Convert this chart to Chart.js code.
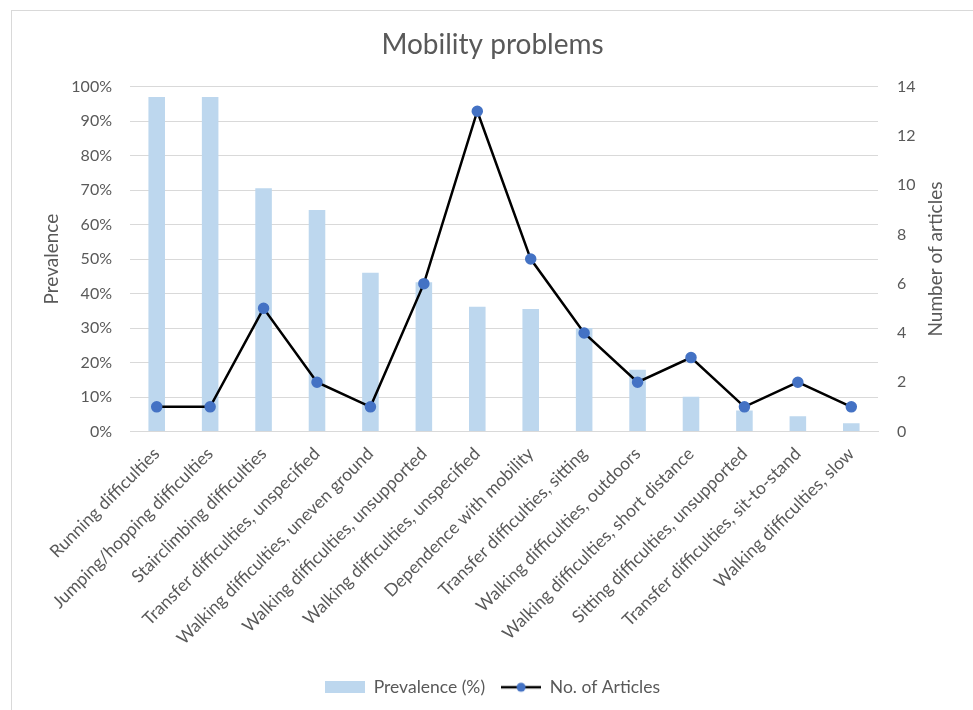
<!DOCTYPE html>
<html>
<head>
<meta charset="utf-8">
<script src="https://cdn.jsdelivr.net/npm/chart.js@4.4.1/dist/chart.umd.min.js"></script>
<style>
  html, body { margin: 0; padding: 0; background: #fff; overflow: hidden; }
  #frame { position: absolute; left: 11px; top: 10px; right: -5px; bottom: -5px; border-left: 1px solid #d9d9d9; border-top: 1px solid #d9d9d9; }
  #myChart { position: absolute; left: 0; top: 0; }
</style>
</head>
<body>
<div id="frame"></div>
<canvas id="myChart" width="973" height="710"></canvas>
<script>
const categories = [
  "Running difficulties",
  "Jumping/hopping difficulties",
  "Stairclimbing difficulties",
  "Transfer difficulties, unspecified",
  "Walking difficulties, uneven ground",
  "Walking difficulties, unsupported",
  "Walking difficulties, unspecified",
  "Dependence with mobility",
  "Transfer difficulties, sitting",
  "Walking difficulties, outdoors",
  "Walking difficulties, short distance",
  "Sitting difficulties, unsupported",
  "Transfer difficulties, sit-to-stand",
  "Walking difficulties, slow"
];
const prevalence = [97, 97, 70.5, 64.2, 46, 43.3, 36.2, 35.5, 30, 17.9, 10.1, 6.1, 4.4, 2.4];
const articles = [1, 1, 5, 2, 1, 6, 13, 7, 4, 2, 3, 1, 2, 1];
const prevalenceTicks = [0, 10, 20, 30, 40, 50, 60, 70, 80, 90, 100];
const articleTicks = [0, 2, 4, 6, 8, 10, 12, 14];

const textColor = '#595959';
const fontFamily = 'Lato, "Open Sans", sans-serif';

// legend swatches
function barSwatch() {
  const c = document.createElement('canvas');
  c.width = 40; c.height = 12;
  const ctx = c.getContext('2d');
  ctx.fillStyle = '#bdd7ee';
  ctx.fillRect(0, 0, 40, 12);
  return c;
}
function lineSwatch() {
  const c = document.createElement('canvas');
  c.width = 40; c.height = 12;
  const ctx = c.getContext('2d');
  ctx.strokeStyle = '#000';
  ctx.lineWidth = 2.5;
  ctx.beginPath(); ctx.moveTo(0, 6); ctx.lineTo(40, 6); ctx.stroke();
  ctx.fillStyle = '#4472c4';
  ctx.beginPath(); ctx.arc(20, 6, 4.5, 0, Math.PI * 2); ctx.fill();
  return c;
}

// both axis titles read bottom to top
const axisTitles = {
  id: 'axisTitles',
  afterDraw(chart) {
    const ctx = chart.ctx;
    const area = chart.chartArea;
    const midY = (area.top + area.bottom) / 2;
    [[52, 'Prevalence'], [936, 'Number of articles']].forEach(([x, text]) => {
      ctx.save();
      ctx.translate(x, midY);
      ctx.rotate(-Math.PI / 2);
      ctx.font = '19px ' + fontFamily;
      ctx.fillStyle = textColor;
      ctx.textAlign = 'center';
      ctx.textBaseline = 'middle';
      ctx.fillText(text, 0, 0);
      ctx.restore();
    });
  }
};

new Chart('myChart', {
  type: 'bar',
  data: {
    labels: categories,
    datasets: [{
      type: 'bar',
      label: 'Prevalence (%)',
      data: prevalence,
      backgroundColor: '#bdd7ee',
      barPercentage: 0.31,
      categoryPercentage: 1,
      yAxisID: 'y',
      order: 1
    }, {
      type: 'line',
      label: 'No. of Articles',
      data: articles,
      borderColor: '#000',
      borderWidth: 2.5,
      pointRadius: 4.5,
      pointBackgroundColor: '#4472c4',
      pointBorderColor: '#4472c4',
      tension: 0,
      yAxisID: 'y1',
      order: 0
    }]
  },
  options: {
    responsive: false,
    animation: false,
    layout: { padding: { left: 12, right: 0, top: 0, bottom: 4 } },
    plugins: {
      title: {
        display: true,
        text: 'Mobility problems',
        color: textColor,
        font: { family: fontFamily, size: 28, weight: 'normal' },
        padding: { top: 28, bottom: 25 }
      },
      legend: {
        position: 'bottom',
        labels: {
          usePointStyle: true,
          pointStyleWidth: 40,
          color: textColor,
          font: { family: fontFamily, size: 17.5 },
          padding: 16,
          generateLabels(chart) {
            return chart.data.datasets.map((ds, i) => ({
              text: ds.label,
              datasetIndex: i,
              pointStyle: i === 0 ? barSwatch() : lineSwatch(),
              fontColor: textColor,
              lineWidth: 0,
              strokeStyle: 'transparent',
              fillStyle: 'transparent'
            }));
          }
        }
      },
      tooltip: { enabled: false }
    },
    scales: {
      x: {
        grid: { display: false },
        border: { color: '#d9d9d9' },
        ticks: {
          color: textColor,
          font: { family: fontFamily, size: 17.5 },
          minRotation: 45,
          maxRotation: 45,
          autoSkip: false,
          padding: 4
        },
        afterFit(scale) { scale.height = 231; }
      },
      y: {
        position: 'left',
        min: 0,
        max: 100,
        afterBuildTicks(scale) { scale.ticks = prevalenceTicks.map(v => ({ value: v })); },
        grid: { color: '#d9d9d9', drawTicks: false },
        border: { display: false },
        ticks: {
          color: textColor,
          font: { family: fontFamily, size: 16 },
          padding: 18,
          callback: v => v + '%'
        },
        afterFit(scale) { scale.width = 118; }
      },
      y1: {
        position: 'right',
        min: 0,
        max: 14,
        afterBuildTicks(scale) { scale.ticks = articleTicks.map(v => ({ value: v })); },
        grid: { display: false, drawTicks: false },
        border: { display: false },
        ticks: {
          color: textColor,
          font: { family: fontFamily, size: 16 },
          padding: 19
        },
        afterFit(scale) { scale.width = 95; }
      }
    }
  },
  plugins: [axisTitles]
});
</script>
</body>
</html>
